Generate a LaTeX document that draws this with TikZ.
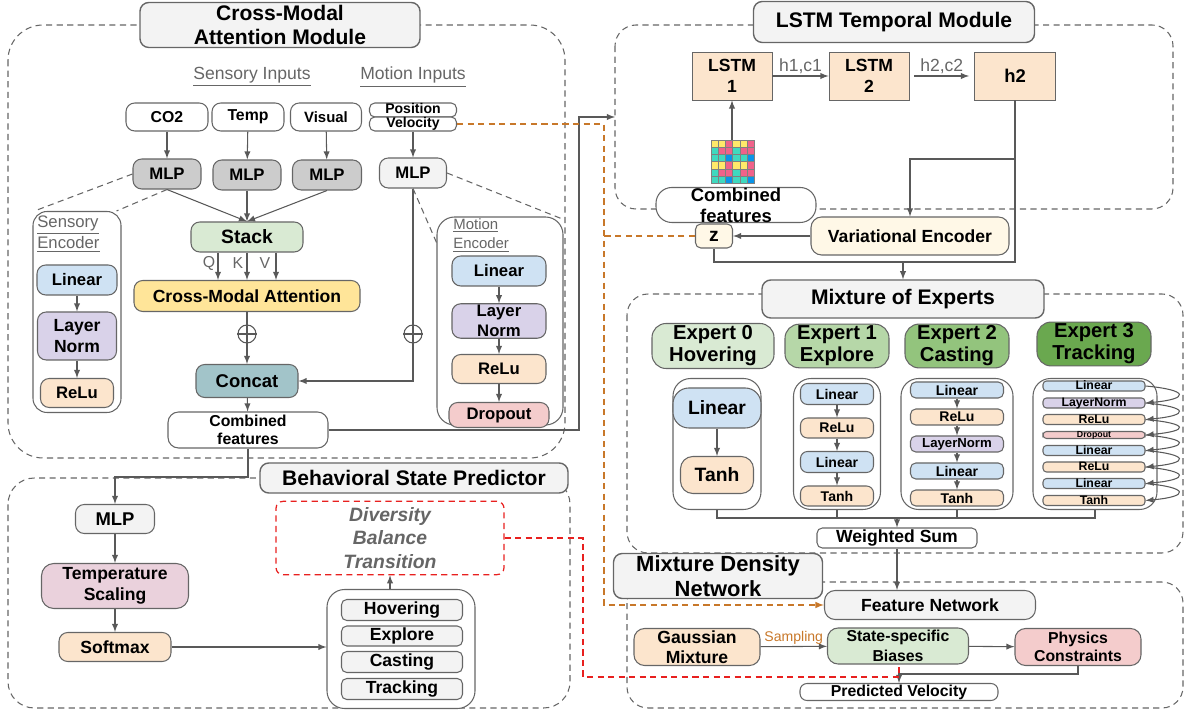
\documentclass[tikz,border=0pt]{standalone}
\usepackage{fontspec}
\setmainfont{Liberation Sans}
\usepackage{xcolor}
\definecolor{lgray}{HTML}{595959}
\definecolor{tgray}{HTML}{F3F3F3}
\definecolor{mgray}{HTML}{CCCCCC}
\definecolor{txgray}{HTML}{666666}
\definecolor{cblue}{HTML}{CFE2F3}
\definecolor{cpurple}{HTML}{D9D2E9}
\definecolor{corange}{HTML}{FCE5CD}
\definecolor{cpink}{HTML}{F4CCCC}
\definecolor{cgreen}{HTML}{D9EAD3}
\definecolor{cyellow}{HTML}{FFE599}
\definecolor{cteal}{HTML}{A2C4C9}
\definecolor{cmauve}{HTML}{EAD1DC}
\definecolor{ccream}{HTML}{FFF8E7}
\definecolor{egreenA}{HTML}{D9EAD3}
\definecolor{egreenB}{HTML}{B6D7A8}
\definecolor{egreenC}{HTML}{93C47D}
\definecolor{egreenD}{HTML}{6AA84F}
\definecolor{lorange}{HTML}{C8782A}
\definecolor{lred}{HTML}{E8201F}
\definecolor{gy}{HTML}{FFE96A}
\definecolor{gp}{HTML}{F0628A}
\definecolor{gt}{HTML}{3FD9BF}
\definecolor{gb}{HTML}{0A94E8}
\usepackage{tikz}
\usetikzlibrary{arrows,calc}
\newcommand{\fsz}[2]{\fontsize{#1}{#2}\selectfont}
\tikzset{
  blk/.style={draw=txgray, line width=0.6pt, rounded corners=3pt, align=center, inner sep=1pt},
  sz/.style 2 args={minimum width=#1*0.02cm, minimum height=#2*0.02cm},
  grp/.style={draw=txgray, line width=0.6pt, dash pattern=on 3.5pt off 2.5pt},
  ttl/.style={blk, fill=tgray, rounded corners=5pt, line width=0.8pt, font=\fsz{12}{13.5}\bfseries},
  lbl/.style={text=txgray, inner sep=0pt, align=left},
  ln/.style={draw=lgray, line width=0.6pt},
  arr/.style={ln, ->, >=latex},
  odash/.style={draw=lorange, line width=0.7pt, dash pattern=on 3.5pt off 2.5pt, >=latex},
  rdash/.style={draw=lred, line width=0.7pt, dash pattern=on 3.5pt off 2.5pt},
  tiny/.style={blk, sz={102}{10}, inner sep=0pt, text height=5pt, text depth=0.7pt, rounded corners=2pt, font=\fsz{7}{8}\bfseries},
}
\begin{document}
\begin{tikzpicture}[x=0.02cm,y=-0.02cm]
\useasboundingbox (0,0) rectangle (1186,715);
% dashed groups
\draw[grp, rounded corners=20pt] (8,25) rectangle (565,458);
\draw[grp, rounded corners=15pt] (8,478) rectangle (570,708);
\draw[grp, rounded corners=12pt] (615,25) rectangle (1173,209);
\draw[grp, rounded corners=12pt] (627,294) rectangle (1183,553);
\draw[grp, rounded corners=12pt] (627,582) rectangle (1183,708);
% cross-modal attention module
\node[ttl, sz={280}{45}] (ttlA) at (280,25) {Cross-Modal\\Attention Module};
\node[lbl, font=\fsz{10}{12}] (sin) at (252,77) {\underline{Sensory Inputs}};
\node[lbl, font=\fsz{10}{12}] (min) at (413,77) {\underline{Motion Inputs}};
\node[blk, fill=white, sz={82}{28}, rounded corners=5pt, font=\fsz{9}{10}\bfseries] (co2) at (167,117) {CO2};
\node[blk, fill=white, sz={72}{28}, rounded corners=5pt, font=\fsz{9}{10}\bfseries] (temp) at (248,117) {Temp};
\node[blk, fill=white, sz={71}{28}, rounded corners=5pt, font=\fsz{8.5}{10}\bfseries] (vis) at (326,117) {Visual};
\node[blk, fill=white, sz={87}{14}, inner sep=0pt, text height=6pt, text depth=1.7pt, font=\fsz{8}{9}\bfseries] (pos) at (413,110) {Position};
\node[blk, fill=white, sz={87}{14}, inner sep=0pt, text height=6pt, text depth=1.7pt, font=\fsz{8}{9}\bfseries] (vel) at (413,124) {Velocity};
\node[blk, fill=mgray, sz={68}{30}, rounded corners=5pt, font=\fsz{9.5}{11}\bfseries] (mlpA) at (167,174) {MLP};
\node[blk, fill=mgray, sz={68}{30}, rounded corners=5pt, font=\fsz{9.5}{11}\bfseries] (mlpB) at (247,175) {MLP};
\node[blk, fill=mgray, sz={69}{30}, rounded corners=5pt, font=\fsz{9.5}{11}\bfseries] (mlpC) at (327,175) {MLP};
\node[blk, fill=tgray, sz={67}{30}, rounded corners=5pt, font=\fsz{9.5}{11}\bfseries] (mlpM) at (413,173) {MLP};
\draw[arr] (co2) -- (mlpA);
\draw[arr] (temp) -- (mlpB);
\draw[arr] (vis) -- (mlpC);
\draw[arr] (vel) -- (mlpM);
% sensory encoder
\node[blk, fill=white, sz={88}{201}, rounded corners=8pt] (senc) at (77,312) {};
\node[lbl, anchor=north west, font=\fsz{9.5}{12.5}] (sencl) at (37,215) {\underline{Sensory}\\\underline{Encoder}};
\node[blk, fill=cblue, sz={80}{30}, rounded corners=5pt, font=\fsz{9.5}{11}\bfseries] (slin) at (77,280) {Linear};
\node[blk, fill=cpurple, sz={79}{48}, rounded corners=5pt, font=\fsz{10}{11.5}\bfseries] (snorm) at (77,336) {Layer\\Norm};
\node[blk, fill=corange, sz={73}{29}, rounded corners=5pt, font=\fsz{9.5}{11}\bfseries] (srelu) at (77,393) {ReLu};
\draw[arr] (slin) -- (snorm);
\draw[arr] (snorm) -- (srelu);
\draw[grp] (mlpA.west) -- ($(senc.north west)+(2,0)$);
\draw[grp] (mlpA.south) -- ($(senc.north east)+(-5,0)$);
% attention path
\node[blk, fill=cgreen, sz={112}{30}, rounded corners=5pt, font=\fsz{11}{12}\bfseries] (stack) at (247,237) {Stack};
\node[blk, fill=cyellow, sz={226}{31}, rounded corners=5pt, font=\fsz{10}{11}\bfseries] (cma) at (247,296) {Cross-Modal Attention};
\draw[arr] (mlpA.south) -- (stack.north);
\draw[arr] (mlpB.south) -- (stack.north);
\draw[arr] (mlpC.south) -- (stack.north);
\draw[arr] ($(stack.south)+(-29,0)$) -- ($(cma.north)+(-29,0)$);
\draw[arr] (stack.south) -- (cma.north);
\draw[arr] ($(stack.south)+(29,0)$) -- ($(cma.north)+(29,0)$);
\node[lbl, font=\fsz{9}{10}] (lq) at (209,263) {Q};
\node[lbl, font=\fsz{9}{10}] (lk) at (238,263) {K};
\node[lbl, font=\fsz{9}{10}] (lv) at (265,263) {V};
\node[circle, draw=lgray, line width=0.6pt, minimum size=18*0.02cm, inner sep=0pt] (opA) at (247,334) {};
\node[circle, draw=lgray, line width=0.6pt, minimum size=18*0.02cm, inner sep=0pt] (opB) at (413,334) {};
\draw[ln] (opA.north) -- (opA.south) (opA.west) -- (opA.east);
\draw[ln] (opB.north) -- (opB.south) (opB.west) -- (opB.east);
\node[blk, fill=cteal, sz={102}{33}, rounded corners=5pt, font=\fsz{10.5}{12}\bfseries] (concat) at (247,381) {Concat};
\node[blk, fill=white, sz={160}{36}, rounded corners=6pt, font=\fsz{9}{10}\bfseries] (combA) at (248,430) {Combined\\features};
\draw[ln] (cma) -- (opA.north);
\draw[arr] (opA) -- (concat);
\draw[ln] (mlpM) -- (opB.north);
\draw[arr] (opB.south) |- (concat.east);
\draw[arr] (concat) -- (combA);
% motion encoder
\node[blk, fill=white, sz={126}{208}, rounded corners=10pt] (menc) at (500,321) {};
\node[lbl, anchor=north west, font=\fsz{8.5}{11}] (mencl) at (453,218) {\underline{Motion}\\\underline{Encoder}};
\node[blk, fill=cblue, sz={94}{30}, rounded corners=5pt, font=\fsz{9.5}{11}\bfseries] (mlin) at (499,271) {Linear};
\node[blk, fill=cpurple, sz={94}{33}, rounded corners=5pt, font=\fsz{9.5}{11}\bfseries] (mnorm) at (499,321) {Layer\\Norm};
\node[blk, fill=corange, sz={94}{29}, rounded corners=5pt, font=\fsz{9.5}{11}\bfseries] (mrelu) at (499,369) {ReLu};
\node[blk, fill=cpink, sz={100}{25}, rounded corners=5pt, font=\fsz{9.5}{11}\bfseries] (mdrop) at (499,415) {Dropout};
\draw[arr] (mlin) -- (mnorm);
\draw[arr] (mnorm) -- (mrelu);
\draw[arr] (mrelu) -- (mdrop);
\draw[grp] (mlpM.east) -- ($(menc.north east)+(0,3)$);
\draw[grp] (mlpM.south) -- ($(menc.north west)+(0,26)$);
% behavioral state predictor
\node[ttl, sz={308}{30}] (ttlB) at (414,478) {Behavioral State Predictor};
\node[blk, fill=tgray, sz={79}{29}, rounded corners=5pt, font=\fsz{10.5}{12}\bfseries] (mlpS) at (115,519) {MLP};
\node[blk, fill=cmauve, sz={147}{45}, rounded corners=7pt, font=\fsz{10}{12}\bfseries] (tscale) at (115,586) {Temperature\\Scaling};
\node[blk, fill=corange, sz={112}{29}, rounded corners=5pt, font=\fsz{10}{11}\bfseries] (smax) at (115,647) {Softmax};
\node[blk, fill=white, sz={148}{119}, rounded corners=10pt] (states) at (401,649) {};
\node[blk, fill=tgray, sz={121}{21}, inner sep=0pt, font=\fsz{10}{11}\bfseries] (shov) at (402,610) {Hovering};
\node[blk, fill=tgray, sz={121}{20}, inner sep=0pt, font=\fsz{10}{11}\bfseries] (sexp) at (402,636) {Explore};
\node[blk, fill=tgray, sz={121}{21}, inner sep=0pt, font=\fsz{10}{11}\bfseries] (scas) at (402,662) {Casting};
\node[blk, fill=tgray, sz={121}{21}, inner sep=0pt, font=\fsz{10}{11}\bfseries] (strk) at (402,689) {Tracking};
\node[draw=lred, line width=0.7pt, dash pattern=on 3.5pt off 2.5pt, rounded corners=4pt, sz={228}{71}, align=center, text=txgray, font=\fsz{11}{13.5}\bfseries\itshape] (div) at (390,538) {Diversity\\Balance\\Transition};
\coordinate (cb) at (248,477);
\draw[arr] (combA.south) -- (cb) -| (mlpS.north);
\draw[arr] (mlpS) -- (tscale);
\draw[arr] (tscale) -- (smax);
\draw[arr] (smax.east) -- (smax.east -| states.west);
\draw[arr] (div.south |- states.north) -- (div.south);
% lstm temporal module
\node[ttl, sz={281}{41}] (ttlC) at (894,22) {LSTM Temporal Module};
\node[draw=txgray, line width=0.5pt, fill=corange, sz={80}{48}, align=center, font=\fsz{10}{12}\bfseries] (lstmA) at (732,76) {LSTM\\1};
\node[draw=txgray, line width=0.5pt, fill=corange, sz={80}{48}, align=center, font=\fsz{10}{12}\bfseries] (lstmB) at (869,76) {LSTM\\2};
\node[draw=txgray, line width=0.5pt, fill=corange, sz={81}{48}, align=center, font=\fsz{10.5}{12}\bfseries] (hout) at (1015,76) {h2};
\draw[arr] (lstmA) -- node[lbl, above=1pt, font=\fsz{10}{11}] (lhA) {h1,c1} (lstmB);
\draw[arr] ($(lstmB.east)+(5,0)$) -- node[lbl, above=1pt, font=\fsz{10}{11}] (lhB) {h2,c2} ($(hout.west)+(-5,0)$);
\foreach \row [count=\r] in {{gy,gy,gp,gy,gy,gp},{gt,gp,gp,gt,gp,gp},{gt,gt,gb,gt,gt,gb},{gy,gy,gp,gy,gy,gp},{gt,gp,gp,gt,gp,gp},{gt,gt,gb,gt,gt,gb}}
  \foreach \c [count=\k] in \row
    \filldraw[fill=\c, draw=gray, line width=0.2pt] ({711+(\k-1)*7.2},{140+(\r-1)*7.2}) rectangle ++(7.2,7.2);
\coordinate (gridtop) at (732,140);
\draw[arr] (gridtop) -- (lstmA.south);
\node[blk, fill=white, sz={160}{35}, rounded corners=9pt, inner sep=0pt, font=\fsz{10.5}{12}\bfseries] (combB) at (736,205) {Combined\\features};
\node[blk, fill=ccream, sz={198}{38}, rounded corners=6pt, font=\fsz{10}{11}\bfseries] (venc) at (910,236) {Variational Encoder};
\node[blk, fill=ccream, sz={37}{24}, rounded corners=3pt, inner sep=0pt, font=\fsz{11}{12}\bfseries] (zlat) at (714,236) {z};
\coordinate (hj) at (1015,159);
\coordinate (zj) at (1015,262);
\coordinate (mj) at (903,262);
\draw[ln] (hout.south) -- (zj) -| (zlat.south);
\draw[arr] (hj) -| (venc.north);
\draw[arr] (venc) -- (zlat);
% mixture of experts
\node[ttl, sz={282}{38}] (ttlD) at (903,299) {Mixture of Experts};
\draw[arr] (mj) -- (ttlD.north);
\node[blk, fill=egreenA, sz={122}{45}, rounded corners=8pt, font=\fsz{11.5}{12.5}\bfseries] (hexA) at (713,346) {Expert 0\\Hovering};
\node[blk, fill=egreenB, sz={104}{41}, rounded corners=8pt, font=\fsz{11.5}{12.5}\bfseries] (hexB) at (837,346) {Expert 1\\Explore};
\node[blk, fill=egreenC, sz={104}{41}, rounded corners=8pt, font=\fsz{11.5}{12.5}\bfseries] (hexC) at (957,346) {Expert 2\\Casting};
\node[blk, fill=egreenD, sz={114}{41}, rounded corners=8pt, font=\fsz{11.5}{12.5}\bfseries] (hexD) at (1094,344) {Expert 3\\Tracking};
\node[blk, fill=white, sz={88}{131}, rounded corners=10pt] (conA) at (717,444) {};
\node[blk, fill=white, sz={87}{131}, rounded corners=10pt] (conB) at (837,444) {};
\node[blk, fill=white, sz={112}{131}, rounded corners=10pt] (conC) at (957,444) {};
\node[blk, fill=white, sz={124}{131}, rounded corners=10pt] (conD) at (1095,444) {};
\node[blk, fill=cblue, sz={88}{40}, rounded corners=9pt, font=\fsz{11}{12}\bfseries] (eAlin) at (717,408) {Linear};
\node[blk, fill=corange, sz={73}{37}, rounded corners=7pt, font=\fsz{11}{12}\bfseries] (eAtanh) at (717,475) {Tanh};
\draw[arr] (eAlin) -- (eAtanh);
\node[blk, fill=cblue, sz={73}{21}, inner sep=0pt, rounded corners=4pt, font=\fsz{8}{9}\bfseries] (eBa) at (837,394) {Linear};
\node[blk, fill=corange, sz={73}{20}, inner sep=0pt, rounded corners=4pt, font=\fsz{8}{9}\bfseries] (eBb) at (837,428) {ReLu};
\node[blk, fill=cblue, sz={73}{21}, inner sep=0pt, rounded corners=4pt, font=\fsz{8}{9}\bfseries] (eBc) at (837,462) {Linear};
\node[blk, fill=corange, sz={73}{20}, inner sep=0pt, rounded corners=4pt, font=\fsz{8}{9}\bfseries] (eBd) at (837,496) {Tanh};
\draw[arr] (eBa) -- (eBb);
\draw[arr] (eBb) -- (eBc);
\draw[arr] (eBc) -- (eBd);
\node[blk, fill=cblue, sz={93}{16}, inner sep=0pt, rounded corners=3pt, font=\fsz{8}{9}\bfseries] (eCa) at (957,390) {Linear};
\node[blk, fill=corange, sz={93}{16}, inner sep=0pt, rounded corners=3pt, font=\fsz{8}{9}\bfseries] (eCb) at (957,417) {ReLu};
\node[blk, fill=cpurple, sz={93}{16}, inner sep=0pt, rounded corners=3pt, font=\fsz{7.5}{9}\bfseries] (eCc) at (957,444) {LayerNorm};
\node[blk, fill=cblue, sz={93}{16}, inner sep=0pt, rounded corners=3pt, font=\fsz{8}{9}\bfseries] (eCd) at (957,471) {Linear};
\node[blk, fill=corange, sz={93}{16}, inner sep=0pt, rounded corners=3pt, font=\fsz{8}{9}\bfseries] (eCe) at (957,498) {Tanh};
\draw[arr] (eCa) -- (eCb);
\draw[arr] (eCb) -- (eCc);
\draw[arr] (eCc) -- (eCd);
\draw[arr] (eCd) -- (eCe);
\node[tiny, fill=cblue] (eDa) at (1094,386) {Linear};
\node[tiny, fill=cpurple] (eDb) at (1094,403) {LayerNorm};
\node[tiny, fill=corange] (eDc) at (1094,419.5) {ReLu};
\node[tiny, fill=cpink, sz={102}{7}, text height=3.5pt, text depth=0.4pt, font=\fsz{5}{6}\bfseries] (eDd) at (1094,435) {Dropout};
\node[tiny, fill=cblue] (eDe) at (1094,450.5) {Linear};
\node[tiny, fill=corange] (eDf) at (1094,467) {ReLu};
\node[tiny, fill=cblue] (eDg) at (1094,483.5) {Linear};
\node[tiny, fill=corange] (eDh) at (1094,500.5) {Tanh};
\foreach \a/\b in {eDa/eDb,eDb/eDc,eDc/eDd,eDd/eDe,eDe/eDf,eDf/eDg,eDg/eDh}
  \draw[arr] (\a.east) .. controls +(44,4) and +(44,-4) .. (\b.east);
\node[blk, fill=white, sz={160}{20}, inner sep=0pt, font=\fsz{10}{11}\bfseries] (wsum) at (897,538) {Weighted Sum};
\coordinate (ej) at (897,518);
\draw[ln] (conA.south) -- (conA.south |- ej) -- (conD.south |- ej) -- (conD.south);
\draw[ln] (conB.south) -- (conB.south |- ej);
\draw[ln] (conC.south) -- (conC.south |- ej);
\draw[arr] (ej) -- (wsum.north);
% mixture density network
\node[ttl, sz={209}{45}, font=\fsz{12.5}{14}\bfseries] (ttlE) at (718,576) {Mixture Density\\Network};
\node[blk, fill=tgray, sz={211}{29}, rounded corners=6pt, font=\fsz{10}{11}\bfseries] (feat) at (930,605) {Feature Network};
\node[blk, fill=corange, sz={126}{37}, rounded corners=6pt, inner sep=0pt, font=\fsz{10}{11.5}\bfseries] (gmix) at (697,647) {Gaussian\\Mixture};
\node[blk, fill=cgreen, sz={141}{36}, rounded corners=6pt, inner sep=0pt, font=\fsz{9}{11.5}\bfseries] (bias) at (898,646) {State-specific\\Biases};
\node[blk, fill=cpink, sz={126}{37}, rounded corners=6pt, inner sep=0pt, font=\fsz{9}{10.5}\bfseries] (phys) at (1078,647) {Physics\\Constraints};
\node[blk, fill=white, sz={198}{17}, inner sep=0pt, rounded corners=4pt, font=\fsz{9}{10}\bfseries] (pvel) at (899,692) {Predicted Velocity};
\draw[arr] (wsum) -- (feat.north -| wsum);
\draw[arr] (gmix) -- node[above=0pt, inner sep=1pt, text=lorange, font=\fsz{8}{9}] (lsamp) {Sampling} (bias);
\draw[arr] (bias) -- (phys);
\coordinate (pj) at (899,674);
\draw[arr] (phys.south) |- (pj) -- (pvel.north);
% long connectors
\coordinate (bendA) at (579,117);
\coordinate (lstmin) at (615,117);
\draw[arr] (combA.east) -| (bendA) -- (lstmin);
\coordinate (ox) at (604,0);
\draw[odash, ->] (vel.east) -| (ox |- feat.west) -- (feat.west);
\draw[odash] (zlat.west) -- (zlat.west -| ox);
\coordinate (rx) at (583,0);
\coordinate (rb) at (899,677);
\draw[rdash] (div.east) -| (rx |- rb) -- (rb) -- (rb |- bias.south);
\end{tikzpicture}
\end{document}
